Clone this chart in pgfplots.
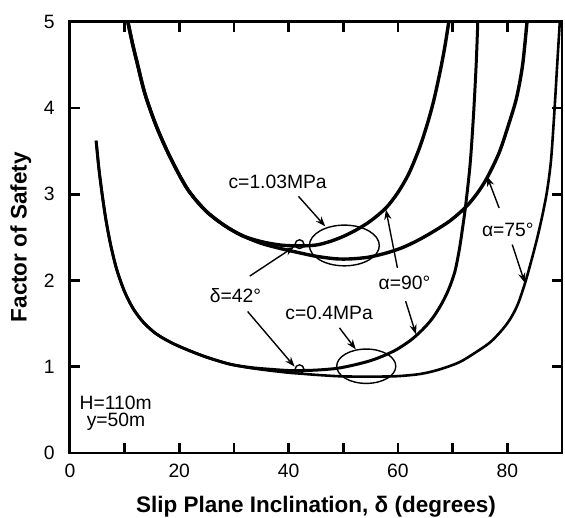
\documentclass[border=0pt]{standalone}
\usepackage{fontspec}
\setmainfont{Liberation Sans}
\usepackage{pgfplots}
\pgfplotsset{compat=1.18}
\usepackage{pgfplotstable}
\usetikzlibrary{arrows.meta,calc}

% c = 1.03 MPa, alpha = 90
\pgfplotstableread{
x y
10.6 5.00
11.4 4.76
12.2 4.55
13.7 4.17
15.8 3.79
18.4 3.42
21.5 3.06
24.8 2.81
28.2 2.64
31.5 2.52
35.0 2.45
38.5 2.41
42.0 2.40
45.0 2.41
47.5 2.45
50.0 2.51
52.5 2.59
55.0 2.69
57.8 2.84
60.0 3.02
62.0 3.24
63.9 3.53
65.4 3.82
66.6 4.10
67.8 4.45
68.6 4.72
69.3 5.00
}\cHighNinety

% c = 1.03 MPa, alpha = 75
\pgfplotstableread{
x y
10.6 5.00
11.4 4.76
12.2 4.55
13.7 4.17
15.8 3.79
18.4 3.42
21.5 3.06
24.8 2.81
28.2 2.64
31.5 2.52
35.0 2.43
38.5 2.37
42.0 2.32
45.0 2.28
48.7 2.25
51.5 2.25
54.7 2.27
58.0 2.32
60.8 2.38
63.5 2.46
66.3 2.56
69.5 2.69
72.4 2.85
74.5 3.01
76.3 3.19
78.5 3.48
80.3 3.82
81.7 4.12
82.8 4.50
83.6 5.00
}\cHighSeventyFive

% c = 0.4 MPa, alpha = 90
\pgfplotstableread{
x y
4.8 3.62
5.3 3.30
5.9 3.00
6.6 2.70
7.5 2.40
8.6 2.12
10.0 1.87
11.6 1.67
13.5 1.51
15.8 1.38
18.5 1.28
21.3 1.20
25.0 1.11
29.2 1.03
33.0 0.99
36.5 0.97
40.0 0.955
42.0 0.955
45.0 0.96
48.8 0.98
52.0 1.02
55.0 1.07
57.5 1.13
59.8 1.20
62.4 1.31
64.5 1.43
66.3 1.56
68.0 1.73
69.3 1.90
70.4 2.10
71.2 2.35
71.8 2.60
72.4 2.88
73.2 3.35
73.8 3.90
74.3 4.50
74.6 5.00
}\cLowNinety

% c = 0.4 MPa, alpha = 75
\pgfplotstableread{
x y
4.8 3.62
5.3 3.30
5.9 3.00
6.6 2.70
7.5 2.40
8.6 2.12
10.0 1.87
11.6 1.67
13.5 1.51
15.8 1.38
18.5 1.28
21.3 1.20
25.0 1.11
29.2 1.03
33.0 0.985
36.5 0.955
40.0 0.93
42.0 0.92
45.0 0.905
48.8 0.89
52.0 0.885
56.6 0.885
60.0 0.89
63.5 0.91
66.0 0.94
68.7 0.99
71.5 1.06
74.8 1.19
77.0 1.29
79.1 1.43
80.6 1.56
81.9 1.72
83.2 1.96
84.4 2.23
85.5 2.50
86.5 2.78
87.3 3.05
88.0 3.40
88.6 3.95
89.1 4.48
89.6 5.00
}\cLowSeventyFive

\newcommand{\annfont}{\fontsize{9.7}{11}\selectfont}

\begin{document}
\begin{tikzpicture}[
  arr/.style={black, line width=0.7bp, -{Stealth[length=5bp,width=3.6bp]}},
  lbl/.style={black, font=\annfont, anchor=base, inner sep=0pt},
  tk/.style={black, line width=1.4bp},
]
\begin{axis}[
  scale only axis,
  width=246.5bp, height=216bp,
  xmin=0, xmax=90, ymin=0, ymax=5,
  axis line style={black, line width=1.4bp},
  xtick={0,10,...,90},
  xticklabels={0,,20,,40,,60,,80,},
  ytick={0,1,2,3,4,5},
  yticklabels={0,1,2,3,4,5},
  tick align=inside,
  major tick length=5bp,
  major tick style={draw=black, line width=1.4bp},
  xticklabel style={font=\annfont, inner sep=0pt, anchor=base, yshift=-12.3bp},
  yticklabel style={font=\annfont, inner sep=0pt, anchor=east, xshift=-7.5bp},
  xlabel={Slip Plane Inclination, δ (degrees)},
  ylabel={Factor of Safety},
  xlabel style={font=\fontsize{11.3}{13}\selectfont\bfseries, inner sep=0pt,
    at={(axis description cs:0.5,-0.138)}, anchor=base},
  ylabel style={font=\fontsize{11.3}{13}\selectfont\bfseries, inner sep=0pt,
    at={(axis description cs:-0.088,0.5)}, anchor=base},
  clip=true,
]
\addplot[black, line width=1.7bp, smooth] table {\cHighNinety};
\addplot[black, line width=1.7bp, smooth] table {\cHighSeventyFive};
\addplot[black, line width=1.5bp, smooth] table {\cLowNinety};
\addplot[black, line width=1.3bp, smooth] table {\cLowSeventyFive};

% marked points at delta = 42
\addplot[black, only marks, mark=o, mark size=2.2bp, mark options={line width=0.7bp, fill=white}]
  coordinates {(42,2.42) (42,0.97)};

% ellipses
\draw[black, line width=0.7bp] (axis cs:50.2,2.405) ellipse [x radius=17.5bp, y radius=10.2bp];
\draw[black, line width=0.7bp] (axis cs:54.2,1.005) ellipse [x radius=14.8bp, y radius=8.6bp];

% labels
\node[lbl] at (axis cs:38.0,3.06) {c=1.03MPa};
\node[lbl] at (axis cs:30.3,1.741) {δ=42°};
\node[lbl] at (axis cs:47.4,1.547) {c=0.4MPa};
\node[lbl] at (axis cs:61.2,1.895) {α=90°};
\node[lbl] at (axis cs:80.1,2.512) {α=75°};
\node[lbl] at (axis cs:8.36,0.506) {H=110m};
\node[lbl] at (axis cs:8.43,0.309) {y=50m};

% arrows
\draw[arr] (axis cs:41.8,2.975) -- (axis cs:46.7,2.627);
\draw[arr] (axis cs:32.9,2.05) -- (axis cs:41.0,2.39);
\draw[arr] (axis cs:32.5,1.64) -- (axis cs:41.1,1.0);
\draw[arr] (axis cs:49.3,1.45) -- (axis cs:52.3,1.20);
\draw[arr] (axis cs:59.9,2.146) -- (axis cs:57.8,2.82);
\draw[arr] (axis cs:61.4,1.76) -- (axis cs:63.3,1.374);
\draw[arr] (axis cs:78.5,2.84) -- (axis cs:76.3,3.206);
\draw[arr] (axis cs:80.9,2.416) -- (axis cs:83.2,1.972);

\coordinate (ll) at (rel axis cs:0,0);
\coordinate (lr) at (rel axis cs:1,0);
\coordinate (ul) at (rel axis cs:0,1);
\coordinate (ur) at (rel axis cs:1,1);
\end{axis}
% frame ticks, drawn again outside the clipped area
\foreach \i in {1,...,8} {
  \draw[tk] ($(ll)!\i/9!(lr)$) -- ++(0pt,5bp);
  \draw[tk] ($(ul)!\i/9!(ur)$) -- ++(0pt,-5bp);
}
\foreach \i in {1,...,4} {
  \draw[tk] ($(ll)!\i/5!(ul)$) -- ++(5bp,0pt);
  \draw[tk] ($(lr)!\i/5!(ur)$) -- ++(-5bp,0pt);
}
\path ([shift={(-35bp,-31.15bp)}]ll) rectangle ([shift={(1.5bp,10.85bp)}]ur);
\end{tikzpicture}
\end{document}
